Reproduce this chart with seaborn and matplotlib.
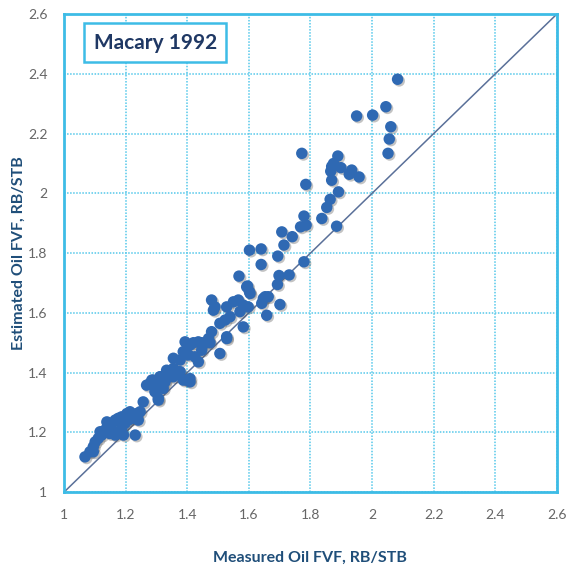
import matplotlib
matplotlib.use("Agg")
import matplotlib.pyplot as plt
import matplotlib.patheffects as pe
import seaborn as sns
import numpy as np
import pandas as pd

# measured vs estimated oil FVF
measured = [
    1.068, 1.084, 1.095, 1.095, 1.101, 1.111, 1.122, 1.117, 1.133, 1.144, 1.139, 1.155,
    1.166, 1.176, 1.187, 1.204, 1.214, 1.236, 1.247, 1.225, 1.241, 1.198, 1.166, 1.176,
    1.187, 1.149, 1.209, 1.193, 1.231, 1.257, 1.306,
    1.268, 1.285, 1.301, 1.312, 1.328, 1.339, 1.355, 1.295, 1.306, 1.322, 1.371,
    1.279, 1.290, 1.306, 1.328, 1.312, 1.333, 1.355, 1.377, 1.387, 1.409, 1.398, 1.409,
    1.355, 1.377, 1.404, 1.425, 1.387, 1.447, 1.436, 1.393, 1.409, 1.436, 1.458,
    1.420, 1.447, 1.474, 1.469, 1.479, 1.506, 1.528, 1.528, 1.506, 1.523, 1.539,
    1.582, 1.479, 1.485, 1.490, 1.528, 1.550, 1.566, 1.582, 1.571, 1.598, 1.593, 1.604,
    1.653, 1.658, 1.647, 1.663, 1.642, 1.701, 1.568, 1.596, 1.602, 1.693, 1.698, 1.731,
    1.640, 1.602, 1.640, 1.694, 1.779, 1.714, 1.707, 1.741,
    1.768, 1.786, 1.779, 1.837, 1.853, 1.864, 1.869, 1.885, 1.891, 1.785, 1.772,
    1.866, 1.875, 1.889, 1.899, 1.934, 1.926, 1.958, 1.869,
    2.052, 2.056, 2.061, 1.950, 2.002, 2.045, 2.083,
]
estimated = [
    1.118, 1.135, 1.135, 1.152, 1.168, 1.180, 1.191, 1.202, 1.208, 1.219, 1.235, 1.230,
    1.241, 1.247, 1.252, 1.263, 1.269, 1.263, 1.269, 1.247, 1.241, 1.230, 1.191, 1.202,
    1.213, 1.196, 1.241, 1.191, 1.191, 1.302, 1.308,
    1.358, 1.375, 1.364, 1.386, 1.375, 1.397, 1.386, 1.336, 1.314, 1.347, 1.403,
    1.364, 1.375, 1.364, 1.369, 1.386, 1.408, 1.414, 1.403, 1.375, 1.380, 1.375, 1.369,
    1.448, 1.442, 1.459, 1.453, 1.470, 1.475, 1.436, 1.503, 1.492, 1.503, 1.498,
    1.500, 1.500, 1.500, 1.514, 1.537, 1.464, 1.520, 1.514, 1.565, 1.576, 1.587,
    1.553, 1.643, 1.609, 1.620, 1.620, 1.637, 1.643, 1.626, 1.604, 1.620, 1.687, 1.665,
    1.654, 1.592, 1.648, 1.654, 1.632, 1.628, 1.723, 1.690, 1.671, 1.695, 1.725, 1.727,
    1.762, 1.810, 1.814, 1.790, 1.771, 1.827, 1.871, 1.855,
    1.888, 1.894, 1.924, 1.916, 1.953, 1.980, 2.044, 1.890, 2.005, 2.030, 2.134,
    2.074, 2.100, 2.125, 2.086, 2.078, 2.064, 2.055, 2.090,
    2.134, 2.182, 2.223, 2.259, 2.262, 2.290, 2.382,
]
ticks = [1, 1.2, 1.4, 1.6, 1.8, 2, 2.2, 2.4, 2.6]
tick_labels = ["1", "1.2", "1.4", "1.6", "1.8", "2", "2.2", "2.4", "2.6"]

df = pd.DataFrame({"measured": measured, "estimated": estimated})

sns.set_style("white")
plt.rcParams["font.family"] = ["Lato", "DejaVu Sans"]

fig = plt.figure(figsize=(5.77, 5.65), dpi=100)
ax = fig.add_axes([0.111, 0.129, 0.854, 0.846])

cyan = "#3DBCE6"
ax.set_xlim(1, 2.6)
ax.set_ylim(1, 2.6)
ax.set_xticks(ticks)
ax.set_yticks(ticks)
ax.set_xticklabels(tick_labels)
ax.set_yticklabels(tick_labels)
ax.grid(True, color="#55C8EA", linestyle=(0, (1, 1)), linewidth=1.1)
for s in ax.spines.values():
    s.set_color(cyan)
    s.set_linewidth(2)
ax.tick_params(axis="both", length=0, pad=12, labelsize=10, labelcolor="#666666")

# 1:1 line
ax.plot([1, 2.6], [1, 2.6], color="#5A7099", linewidth=1.1, zorder=2)

sns.scatterplot(data=df, x="measured", y="estimated", ax=ax, s=68,
                color="#2F69B3", edgecolor="none", zorder=3,
                path_effects=[pe.SimplePatchShadow(offset=(1.2, -1.2), alpha=0.35,
                                                   shadow_rgbFace="#555555"),
                              pe.Normal()])

ax.set_xlabel("Measured Oil FVF, RB/STB", fontsize=11.5, fontweight="bold",
              color="#1F4E79")
ax.set_ylabel("Estimated Oil FVF, RB/STB", fontsize=11.5, fontweight="bold",
              color="#1F4E79")
ax.xaxis.set_label_coords(0.5, -0.122)
ax.yaxis.set_label_coords(-0.078, 0.5)

ax.text(0.06, 0.94, "Macary 1992", transform=ax.transAxes, fontsize=15,
        fontweight="bold", color="#1F3864", va="center", ha="left",
        bbox=dict(boxstyle="square,pad=0.45", facecolor="white",
                  edgecolor=cyan, linewidth=1.8), zorder=5)

fig.savefig("out.png", dpi=100)
